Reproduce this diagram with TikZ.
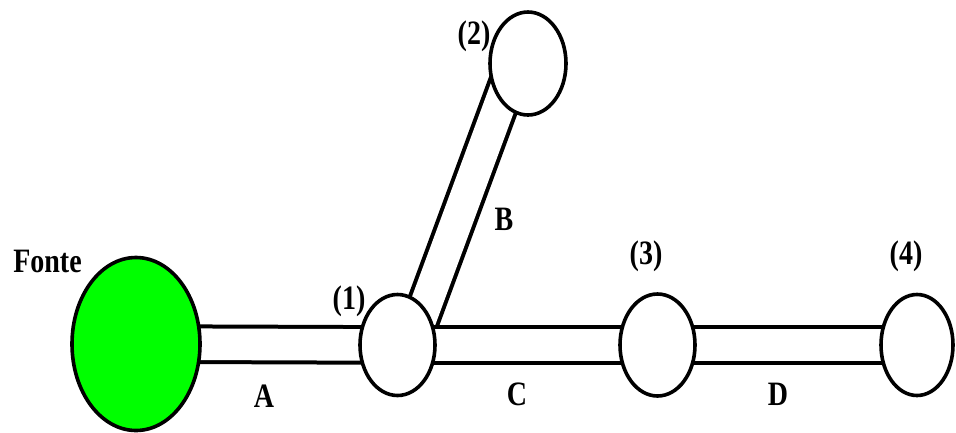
\documentclass[tikz,border=0pt]{standalone}
\usepackage{fontspec}
\setmainfont{Liberation Serif}
\usetikzlibrary{shapes.geometric}
\pgfdeclarelayer{background}
\pgfsetlayers{background,main}
\definecolor{srcgreen}{RGB}{0,255,0}
\newcommand{\tallt}[1]{\scalebox{1}[1.22]{#1}}
\begin{document}
\begin{tikzpicture}[x=1pt,y=-1pt,
  junction/.style={ellipse, draw, line width=3.6pt, fill=white, inner sep=0pt},
  pipe/.style={line width=4pt, double=white, double distance=31.6pt},
  lbl/.style={font=\bfseries\fontsize{28}{30}\selectfont, inner sep=0pt}]
\useasboundingbox (0,0) rectangle (956,432);
\node[junction, fill=srcgreen, minimum width=128pt, minimum height=173pt] (src) at (136,344) {};
\node[junction, minimum width=75pt, minimum height=101pt] (n1) at (397.5,345) {};
\node[junction, minimum width=76pt, minimum height=103pt] (n2) at (528,63.5) {};
\node[junction, minimum width=75pt, minimum height=102pt] (n3) at (657.5,345) {};
\node[junction, minimum width=72pt, minimum height=101pt] (n4) at (917,345) {};
\begin{pgfonlayer}{background}
\draw[pipe] (src.center) -- (n1.center);
\draw[pipe] ([xshift=13.5pt]n1.center) -- ([xshift=-13pt]n2.center);
\draw[pipe] (n1.center) -- (n3.center);
\draw[pipe] (n3.center) -- (n4.center);
\end{pgfonlayer}
\node[lbl, anchor=base] (tfonte) at (47.5,272) {\tallt{Fonte}};
\node[lbl] (t1) at (349,301) {\tallt{(1)}};
\node[lbl] (t2) at (474,36) {\tallt{(2)}};
\node[lbl] (t3) at (646,256) {\tallt{(3)}};
\node[lbl] (t4) at (906,256) {\tallt{(4)}};
\node[lbl, anchor=base] (tA) at (264,407) {\tallt{A}};
\node[lbl, anchor=base] (tB) at (504,230) {\tallt{B}};
\node[lbl, anchor=base] (tC) at (517,405) {\tallt{C}};
\node[lbl, anchor=base] (tD) at (778,405) {\tallt{D}};
\end{tikzpicture}
\end{document}
